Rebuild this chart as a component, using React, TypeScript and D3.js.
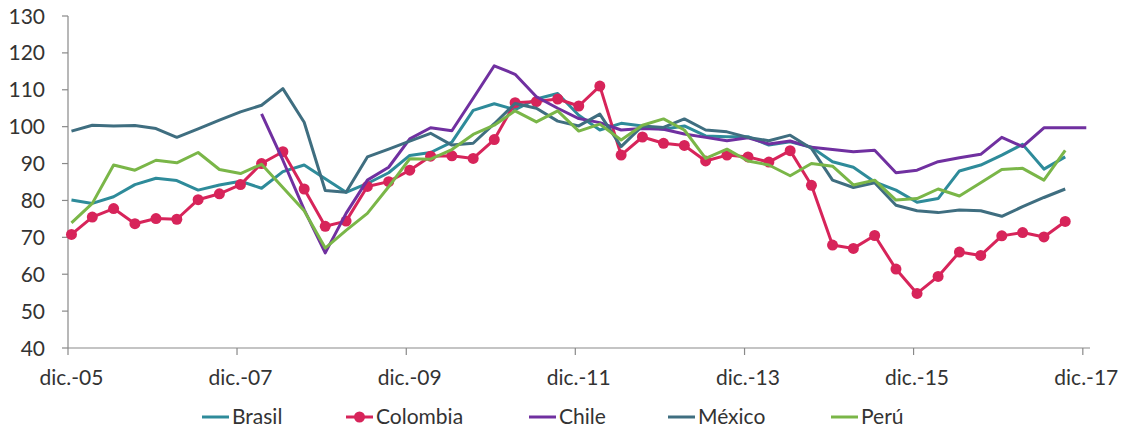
import React, { useEffect, useRef } from 'react';
import * as d3 from 'd3';

// quarterly data, dic.-05 .. dic.-17 (49 quarters)
const startDate = new Date(Date.UTC(2005, 11, 1));
const periods: Date[] = d3.range(49).map(i => d3.utcMonth.offset(startDate, i * 3));

const tickLabels = ['dic.-05', 'dic.-07', 'dic.-09', 'dic.-11', 'dic.-13', 'dic.-15', 'dic.-17'];
const yTicks = [40, 50, 60, 70, 80, 90, 100, 110, 120, 130];

const brasil = [
  80.1, 79.2, 81.0, 84.3, 86.0, 85.4, 82.8, 84.2, 85.2, 83.3, 87.8, 89.6, 85.9, 82.2, 84.6, 87.5,
  92.2, 93.0, 95.8, 104.4, 106.2, 104.6, 107.5, 109.0, 103.1, 99.1, 100.9, 100.2, 99.3, 100.2, 97.5, 97.3,
  97.3, 95.0, 95.9, 94.4, 90.5, 89.0, 85.0, 82.8, 79.5, 80.5, 88.0, 89.6, 92.3, 95.2, 88.5, 91.8, null,
];
const colombia = [
  70.8, 75.5, 77.8, 73.7, 75.1, 74.9, 80.2, 81.8, 84.3, 90.0, 93.2, 83.1, 73.0, 74.4, 83.8, 85.1,
  88.2, 92.0, 92.1, 91.4, 96.5, 106.5, 106.8, 107.5, 105.6, 111.0, 92.3, 97.2, 95.5, 94.9, 90.7, 92.3,
  91.8, 90.4, 93.5, 84.1, 67.9, 67.0, 70.5, 61.4, 54.8, 59.4, 66.0, 65.1, 70.4, 71.3, 70.1, 74.3, null,
];
const chile = [
  null, null, null, null, null, null, null, null, null, 103.5, 90.9, 77.5, 65.8, 76.5, 85.5, 89.0,
  96.7, 99.7, 98.9, 107.7, 116.5, 114.2, 108.1, 105.0, 102.2, 101.1, 99.1, 99.5, 99.3, 98.0, 97.1, 96.2,
  97.0, 95.3, 96.1, 94.4, 93.8, 93.2, 93.6, 87.5, 88.2, 90.5, 91.6, 92.5, 97.1, 94.6, 99.7, 99.7, 99.7,
];
const mexico = [
  98.8, 100.4, 100.2, 100.3, 99.5, 97.1, 99.4, 101.8, 104.0, 105.8, 110.3, 101.2, 82.7, 82.2, 91.8, 93.9,
  96.1, 98.2, 95.0, 95.5, 100.8, 106.3, 105.0, 101.5, 100.2, 103.4, 94.6, 100.2, 99.8, 102.1, 99.1, 98.6,
  97.1, 96.2, 97.7, 94.1, 85.5, 83.5, 84.8, 78.7, 77.2, 76.7, 77.4, 77.2, 75.7, 78.3, 80.8, 83.1, null,
];
const peru = [
  73.9, 79.2, 89.6, 88.2, 90.9, 90.2, 93.0, 88.4, 87.3, 89.8, 83.5, 77.2, 67.1, 71.9, 76.5, 83.7,
  91.3, 91.2, 93.8, 97.9, 100.4, 104.3, 101.3, 104.3, 98.8, 100.7, 96.4, 100.4, 102.1, 99.1, 91.4, 93.9,
  90.7, 89.6, 86.7, 90.0, 89.3, 84.2, 85.5, 80.1, 80.5, 83.1, 81.2, 84.8, 88.4, 88.7, 85.5, 93.6, null,
];

const series = [
  { name: 'Brasil', values: brasil, color: '#2e8b9a', marker: false },
  { name: 'Colombia', values: colombia, color: '#d7245a', marker: true },
  { name: 'Chile', values: chile, color: '#7030a0', marker: false },
  { name: 'México', values: mexico, color: '#3f6e80', marker: false },
  { name: 'Perú', values: peru, color: '#7ab648', marker: false },
];

const legendX = [202, 346, 529, 668, 831];

const LineChart: React.FC = () => {
  const ref = useRef<SVGSVGElement>(null);

  useEffect(() => {
    if (!ref.current) return;
    const width = 1124;
    const height = 430;
    const font = 'Lato, "Open Sans", sans-serif';

    const svg = d3.select(ref.current);
    svg.selectAll('*').remove();

    const x = d3.scaleUtc()
      .domain([startDate, new Date(Date.UTC(2018, 0, 1))])
      .range([68, 1090]);
    const y = d3.scaleLinear().domain([40, 130]).range([348, 16]);

    // points sit in the middle of their month
    const px = (d: Date) => x(d3.utcDay.offset(d, 15));

    // y axis
    const yAxis = svg.append('g');
    yAxis.append('line')
      .attr('x1', 68).attr('x2', 68)
      .attr('y1', y(130)).attr('y2', y(40))
      .attr('stroke', '#898989').attr('stroke-width', 1.2);
    yAxis.selectAll('line.tick')
      .data(yTicks)
      .join('line')
      .attr('class', 'tick')
      .attr('x1', 62).attr('x2', 68)
      .attr('y1', d => y(d)).attr('y2', d => y(d))
      .attr('stroke', '#898989').attr('stroke-width', 1.2);
    yAxis.selectAll('text')
      .data(yTicks)
      .join('text')
      .attr('x', 45)
      .attr('y', d => y(d))
      .attr('dy', '0.36em')
      .attr('text-anchor', 'end')
      .attr('font-family', font)
      .attr('font-size', 21)
      .attr('fill', '#333')
      .text(d => d);

    // x axis
    const xTickDates = tickLabels.map((_, i) => periods[i * 8]);
    const xAxis = svg.append('g');
    xAxis.append('line')
      .attr('x1', 68).attr('x2', 1090)
      .attr('y1', 348).attr('y2', 348)
      .attr('stroke', '#898989').attr('stroke-width', 1.2);
    xAxis.selectAll('line.tick')
      .data(xTickDates)
      .join('line')
      .attr('class', 'tick')
      .attr('x1', d => x(d)).attr('x2', d => x(d))
      .attr('y1', 348).attr('y2', 355)
      .attr('stroke', '#898989').attr('stroke-width', 1.2);
    xAxis.selectAll('text')
      .data(xTickDates)
      .join('text')
      .attr('x', d => px(d))
      .attr('y', 385)
      .attr('text-anchor', 'middle')
      .attr('font-family', font)
      .attr('font-size', 21)
      .attr('fill', '#333')
      .text((_, i) => tickLabels[i]);

    const line = d3.line<number | null>()
      .defined(d => d != null)
      .x((_, i) => px(periods[i]))
      .y(d => y(d as number));

    series.forEach(s => {
      svg.append('path')
        .datum(s.values)
        .attr('fill', 'none')
        .attr('stroke', s.color)
        .attr('stroke-width', 3)
        .attr('stroke-linejoin', 'round')
        .attr('d', line);
      if (s.marker) {
        svg.append('g')
          .selectAll('circle')
          .data(s.values.map((v, i) => ({ v, i })).filter(d => d.v != null))
          .join('circle')
          .attr('cx', d => px(periods[d.i]))
          .attr('cy', d => y(d.v as number))
          .attr('r', 5.5)
          .attr('fill', s.color);
      }
    });

    // legend
    const legend = svg.append('g')
      .selectAll('g')
      .data(series)
      .join('g')
      .attr('transform', (_, i) => `translate(${legendX[i]},417)`);
    legend.append('line')
      .attr('x1', 0).attr('x2', 27)
      .attr('stroke', d => d.color)
      .attr('stroke-width', 3);
    legend.filter(d => d.marker)
      .append('circle')
      .attr('cx', 13.5)
      .attr('r', 5.5)
      .attr('fill', d => d.color);
    legend.append('text')
      .attr('x', 30)
      .attr('y', 6.5)
      .attr('font-family', font)
      .attr('font-size', 21)
      .attr('fill', '#333')
      .text(d => d.name);

    svg.attr('width', width).attr('height', height);
  }, []);

  return <svg ref={ref} style={{ display: 'block' }} />;
};

export default function App() {
  return (
    <div style={{ position: 'absolute', left: 0, top: 0, background: '#fff' }}>
      <LineChart />
    </div>
  );
}
